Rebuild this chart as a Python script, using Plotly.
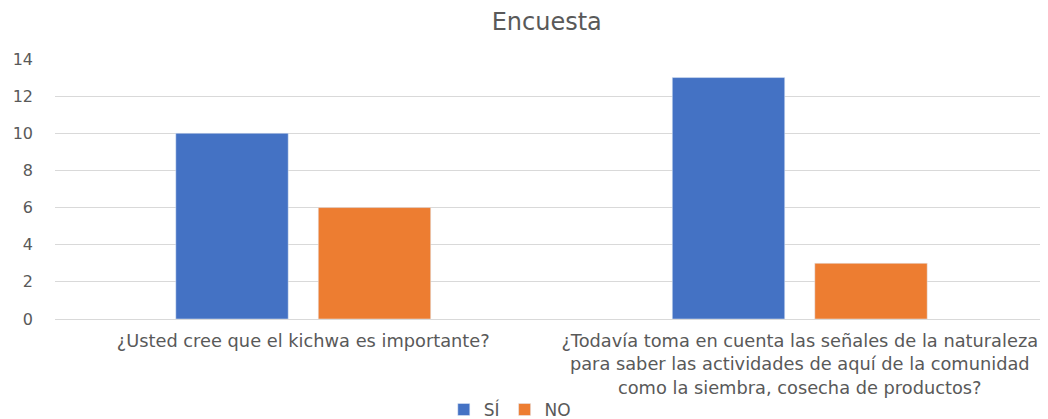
import plotly.graph_objects as go

categories = [
    "¿Usted cree que el kichwa es importante?",
    "¿Todavía toma en cuenta las señales de la naturaleza<br>para saber las actividades de aquí de la comunidad<br>como la siembra, cosecha de productos?",
]
si_values = [10, 13]
no_values = [6, 3]
y_ticks = [0, 2, 4, 6, 8, 10, 12, 14]

fig = go.Figure()
fig.add_trace(go.Bar(name="SÍ", x=categories, y=si_values, marker_color="#4472C4"))
fig.add_trace(go.Bar(name="NO", x=categories, y=no_values, marker_color="#ED7D31"))

font_fam = "DejaVu Sans"
fig.update_layout(
    width=1040, height=411,
    margin=dict(l=47, r=0, t=51, b=100, autoexpand=False),
    paper_bgcolor="white", plot_bgcolor="white",
    barmode="group", bargap=0.426, bargroupgap=0.211,
    title=dict(text="Encuesta", x=0.518, xanchor="center", y=0.966, yanchor="middle",
               font=dict(family=font_fam, size=24, color="#595959")),
    font=dict(family=font_fam, size=15, color="#595959"),
    legend=dict(orientation="h", x=0.458, xanchor="center", yref="container", y=0.022,
                yanchor="middle", font=dict(size=17, color="#595959"), itemwidth=30,
                traceorder="normal"),
    showlegend=True,
)
fig.update_yaxes(range=[0, 14], tickvals=y_ticks, showgrid=True, gridcolor="#D9D9D9",
                 gridwidth=1, zeroline=False, showline=False, ticks="", automargin=False,
                 ticklabelstandoff=21, tickfont=dict(size=16, color="#595959"))
fig.update_xaxes(showline=True, linecolor="#D9D9D9", linewidth=1, ticks="", automargin=False,
                 ticklabelstandoff=6,
                 tickfont=dict(size=17.8, color="#595959"), tickangle=0)
fig.write_html("out.html")
